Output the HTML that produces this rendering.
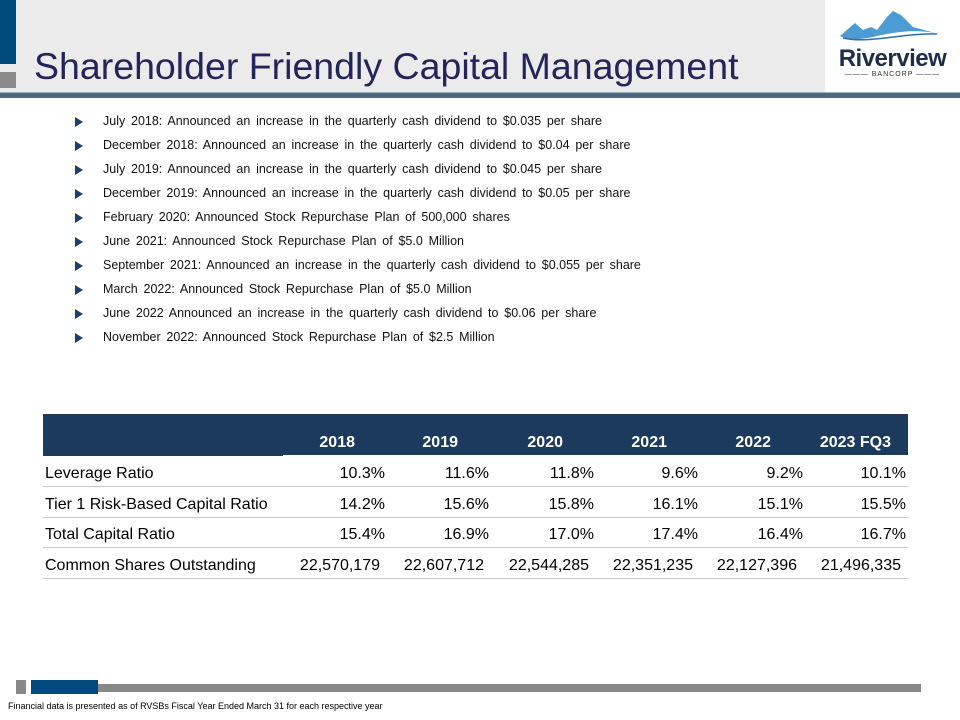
<!DOCTYPE html>
<html><head><meta charset="utf-8"><style>
body{margin:0;width:960px;height:720px;position:relative;background:#fff;overflow:hidden;font-family:"Liberation Sans",Arial,sans-serif}
div{position:absolute}
.b{left:103px;color:#111;white-space:nowrap;font-family:"Liberation Sans Narrow","Liberation Sans",sans-serif;font-size:12.5px;word-spacing:2.3px}
.tri{left:75px;width:0;height:0;border-left:8px solid #1f3e6e;border-top:5px solid transparent;border-bottom:5px solid transparent}
.lab{left:45px;font-size:16px;color:#000;white-space:nowrap}
.v{font-size:16px;color:#000;white-space:nowrap;text-align:right;width:120px}
.h{font-size:16px;color:#fff;font-weight:bold;white-space:nowrap;text-align:right;width:120px;top:434px}
.ln{left:43px;width:865px;height:1px;background:#c8c8c8}
</style></head><body>
<div style="left:0;top:0;width:825px;height:92px;background:#ebebeb"></div>
<div style="left:0;top:0;width:16px;height:64px;background:#004a7c"></div>
<div style="left:0;top:72px;width:16px;height:16px;background:#8a8a8a"></div>
<div style="left:0;top:92px;width:960px;height:5px;background:#4b6a80;border-top:1px solid #a0b0bc"></div>
<div style="left:34px;top:45px;font-size:37.5px;color:#24245a;white-space:nowrap">Shareholder Friendly Capital Management</div>
<div style="left:825px;top:0;width:135px;height:92px;background:#fff">
<svg width="135" height="92" viewBox="0 0 135 92"><path d="M15 36 L30 23 L38 30 L46 27 L52 30 L62 17 L68 11 L76 15 L88 27 L110 33 C90 29 70 32 52 36 C36 40 24 40 15 36Z" fill="#4b9cd3"/><path d="M18 38 C45 44 75 33 112 34" stroke="#2e6fa8" stroke-width="1.5" fill="none"/></svg>
<div style="left:0;width:135px;text-align:center;top:45px;font-size:24px;font-weight:bold;color:#1e2d4a;letter-spacing:-0.5px">Riverview</div>
<div style="left:5px;top:71px;width:125px;font-size:7px;color:#333;text-align:center;letter-spacing:1px">——— BANCORP ———</div>
</div>
<div id="bullets"></div>
<div style="left:43px;top:414px;width:865px;height:42px;background:#1b3a5e"></div>
<div style="left:283px;top:455px;width:625px;height:1px;background:#fff"></div>
<div id="tbl"></div>
<div style="left:16px;top:680px;width:10px;height:14px;background:#888"></div>
<div style="left:31px;top:680px;width:67px;height:14px;background:#004a7c"></div>
<div style="left:98px;top:684px;width:823px;height:8px;background:#888"></div>
<div style="left:8px;top:701px;font-size:9px;color:#000;font-family:'Liberation Sans Narrow','Liberation Sans',sans-serif;white-space:nowrap">Financial data is presented as of RVSBs Fiscal Year Ended March 31 for each respective year</div>
<script>
const bullets=["July 2018:  Announced an increase in the quarterly cash dividend to $0.035 per share","December 2018:  Announced an increase in the quarterly cash dividend to $0.04 per share","July 2019: Announced an increase in the quarterly cash dividend to $0.045 per share","December 2019: Announced an increase in the quarterly cash dividend to $0.05 per share","February 2020: Announced Stock Repurchase Plan of 500,000 shares","June 2021: Announced Stock Repurchase Plan of $5.0 Million","September 2021: Announced an increase in the quarterly cash dividend to $0.055 per share","March 2022: Announced Stock Repurchase Plan of $5.0 Million","June 2022 Announced an increase in the quarterly cash dividend to $0.06 per share","November 2022: Announced Stock Repurchase Plan of $2.5 Million"];
const years=["2018","2019","2020","2021","2022","2023 FQ3"];
const rowLabels=["Leverage Ratio","Tier 1 Risk-Based Capital Ratio","Total Capital Ratio","Common Shares Outstanding"];
const leverage=["10.3%","11.6%","11.8%","9.6%","9.2%","10.1%"];
const tier1=["14.2%","15.6%","15.8%","16.1%","15.1%","15.5%"];
const totalCap=["15.4%","16.9%","17.0%","17.4%","16.4%","16.7%"];
const shares=["22,570,179","22,607,712","22,544,285","22,351,235","22,127,396","21,496,335"];
const B=document.body;
bullets.forEach((t,i)=>{
 const y=114+i*24;
 const tr=document.createElement('div');tr.className='tri';tr.style.top=(y+3)+'px';
 
 
 B.appendChild(tr);
 const d=document.createElement('div');d.className='b';d.style.top=y+'px';d.textContent=t;
 
 
 B.appendChild(d);
});
const hRight=[355,458,563,667,771,891];
years.forEach((t,i)=>{
 const d=document.createElement('div');d.className='h';d.style.left=(hRight[i]-120)+'px';d.textContent=t;
 
 
 B.appendChild(d);
});
const rows=[leverage,tier1,totalCap,shares];
const pctRight=[385,489,594,698,803,906];
const shRight=[380,484,589,693,797,901];
rows.forEach((r,ri)=>{
 const top=465+ri*30.7;
 const l=document.createElement('div');l.className='lab';l.style.top=top+'px';l.textContent=rowLabels[ri];
 
 
 B.appendChild(l);
 r.forEach((v,ci)=>{
  const d=document.createElement('div');d.className='v';d.style.top=top+'px';
  d.style.left=((ri==3?shRight:pctRight)[ci]-120)+'px';d.textContent=v;
  
  
  B.appendChild(d);
 });
 const ln=document.createElement('div');ln.className='ln';ln.style.top=(486+ri*30.7)+'px';
 
 
 B.appendChild(ln);
});
</script>
</body></html>
